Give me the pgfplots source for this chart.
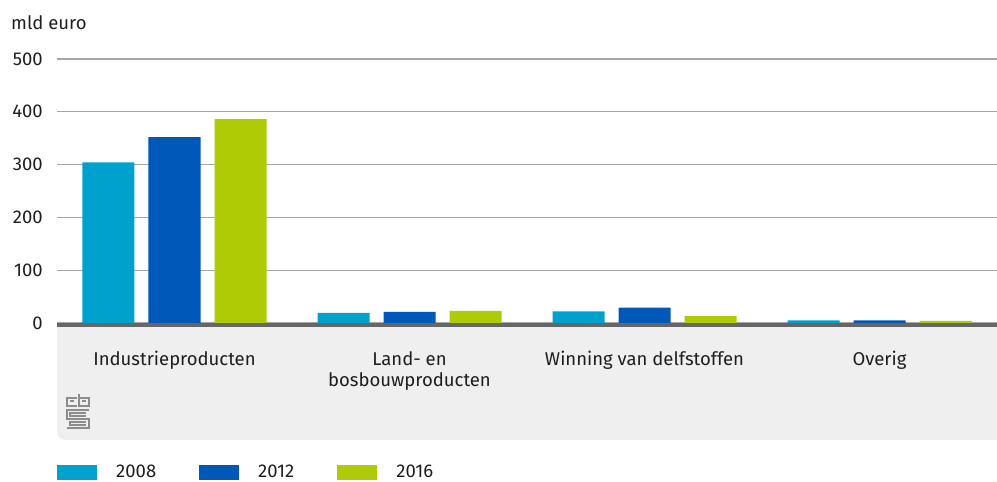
\documentclass[border=0pt]{standalone}
\usepackage{fontspec}
\setmainfont{Fira Sans}
\usepackage{pgfplots}
\pgfplotsset{compat=1.18}
\definecolor{cA}{HTML}{00A1CD}
\definecolor{cB}{HTML}{0058B8}
\definecolor{cC}{HTML}{AFCB05}
\definecolor{boxgrey}{HTML}{EFEFEF}
\definecolor{gridgrey}{HTML}{A6A6A6}
\definecolor{axisgrey}{HTML}{666666}
\definecolor{logogrey}{HTML}{8C8C8C}
\definecolor{txt}{HTML}{1E1E1E}
\newcommand{\fs}{\fontsize{18.5}{21}\selectfont}
\begin{document}
\begin{tikzpicture}[x=1pt,y=1pt]
\useasboundingbox (0,0) rectangle (997,482);
\fill[boxgrey] (57,155) [rounded corners=8pt] -- (57,42) [sharp corners] -- (997,42) -- (997,155) -- cycle;
% logo
\begin{scope}[logogrey, line width=1.1pt]
\draw (77,84) -- (67,84) -- (67,76) -- (77,76);
\draw (70,81) -- (74,81);
\draw (79,88) -- (79,76) -- (89,76) -- (89,84) -- (79,84);
\draw (82,81) -- (86,81);
\draw (89,72) -- (67,72) -- (67,63) -- (89,63) -- (89,54) -- (67,54);
\draw (86,69) -- (70,69) -- (70,66) -- (86,66);
\draw (86,60) -- (70,60) -- (70,57) -- (86,57);
\end{scope}
\node[anchor=base west, inner sep=0pt, font=\fs, text=txt] at (11,452) {mld euro};
\begin{axis}[
  at={(57pt,159pt)}, anchor=south west, scale only axis,
  width=940pt, height=264pt,
  xmin=-0.5, xmax=3.5, ymin=0, ymax=500,
  ytick={0,100,200,300,400,500},
  xtick={0,1,2,3},
  xticklabels={Industrieproducten,{Land- en\\bosbouwproducten},Winning van delfstoffen,Overig},
  axis line style={draw=none},
  major tick length=0pt,
  ymajorgrids, grid style={gridgrey, line width=1.3pt},
  ybar=14pt, bar width=52pt,
  /pgf/number format/assume math mode=true,
  tick label style={font=\fs, text=txt},
  yticklabel style={inner sep=0pt, anchor=east, xshift=-14pt},
  xticklabel style={inner sep=0pt, anchor=north, yshift=-28pt, align=center},
  legend style={at={(0,0)}, anchor=west, xshift=0pt, yshift=-149pt, draw=none, fill=none, inner sep=0pt,
    font=\fs, text=txt, legend columns=3,
    /tikz/every odd column/.append style={column sep=17pt},
    /tikz/every even column/.append style={column sep=41pt}},
  legend cell align=left,
  clip=false,
]
\addplot[fill=cA, draw=none, legend image code/.code={\fill[cA] (0pt,-7.5pt) rectangle (40pt,7.5pt);}] coordinates {(0,304) (1,19) (2,22) (3,5)};
\addplot[fill=cB, draw=none, legend image code/.code={\fill[cB] (0pt,-7.5pt) rectangle (40pt,7.5pt);}] coordinates {(0,352) (1,21) (2,29) (3,5)};
\addplot[fill=cC, draw=none, legend image code/.code={\fill[cC] (0pt,-7.5pt) rectangle (40pt,7.5pt);}] coordinates {(0,386) (1,23) (2,13) (3,4)};
\legend{2008,2012,2016}
\draw[axisgrey, line width=4pt] ([yshift=-2pt]rel axis cs:0,0) -- ([yshift=-2pt]rel axis cs:1,0);
\end{axis}
\end{tikzpicture}
\end{document}
